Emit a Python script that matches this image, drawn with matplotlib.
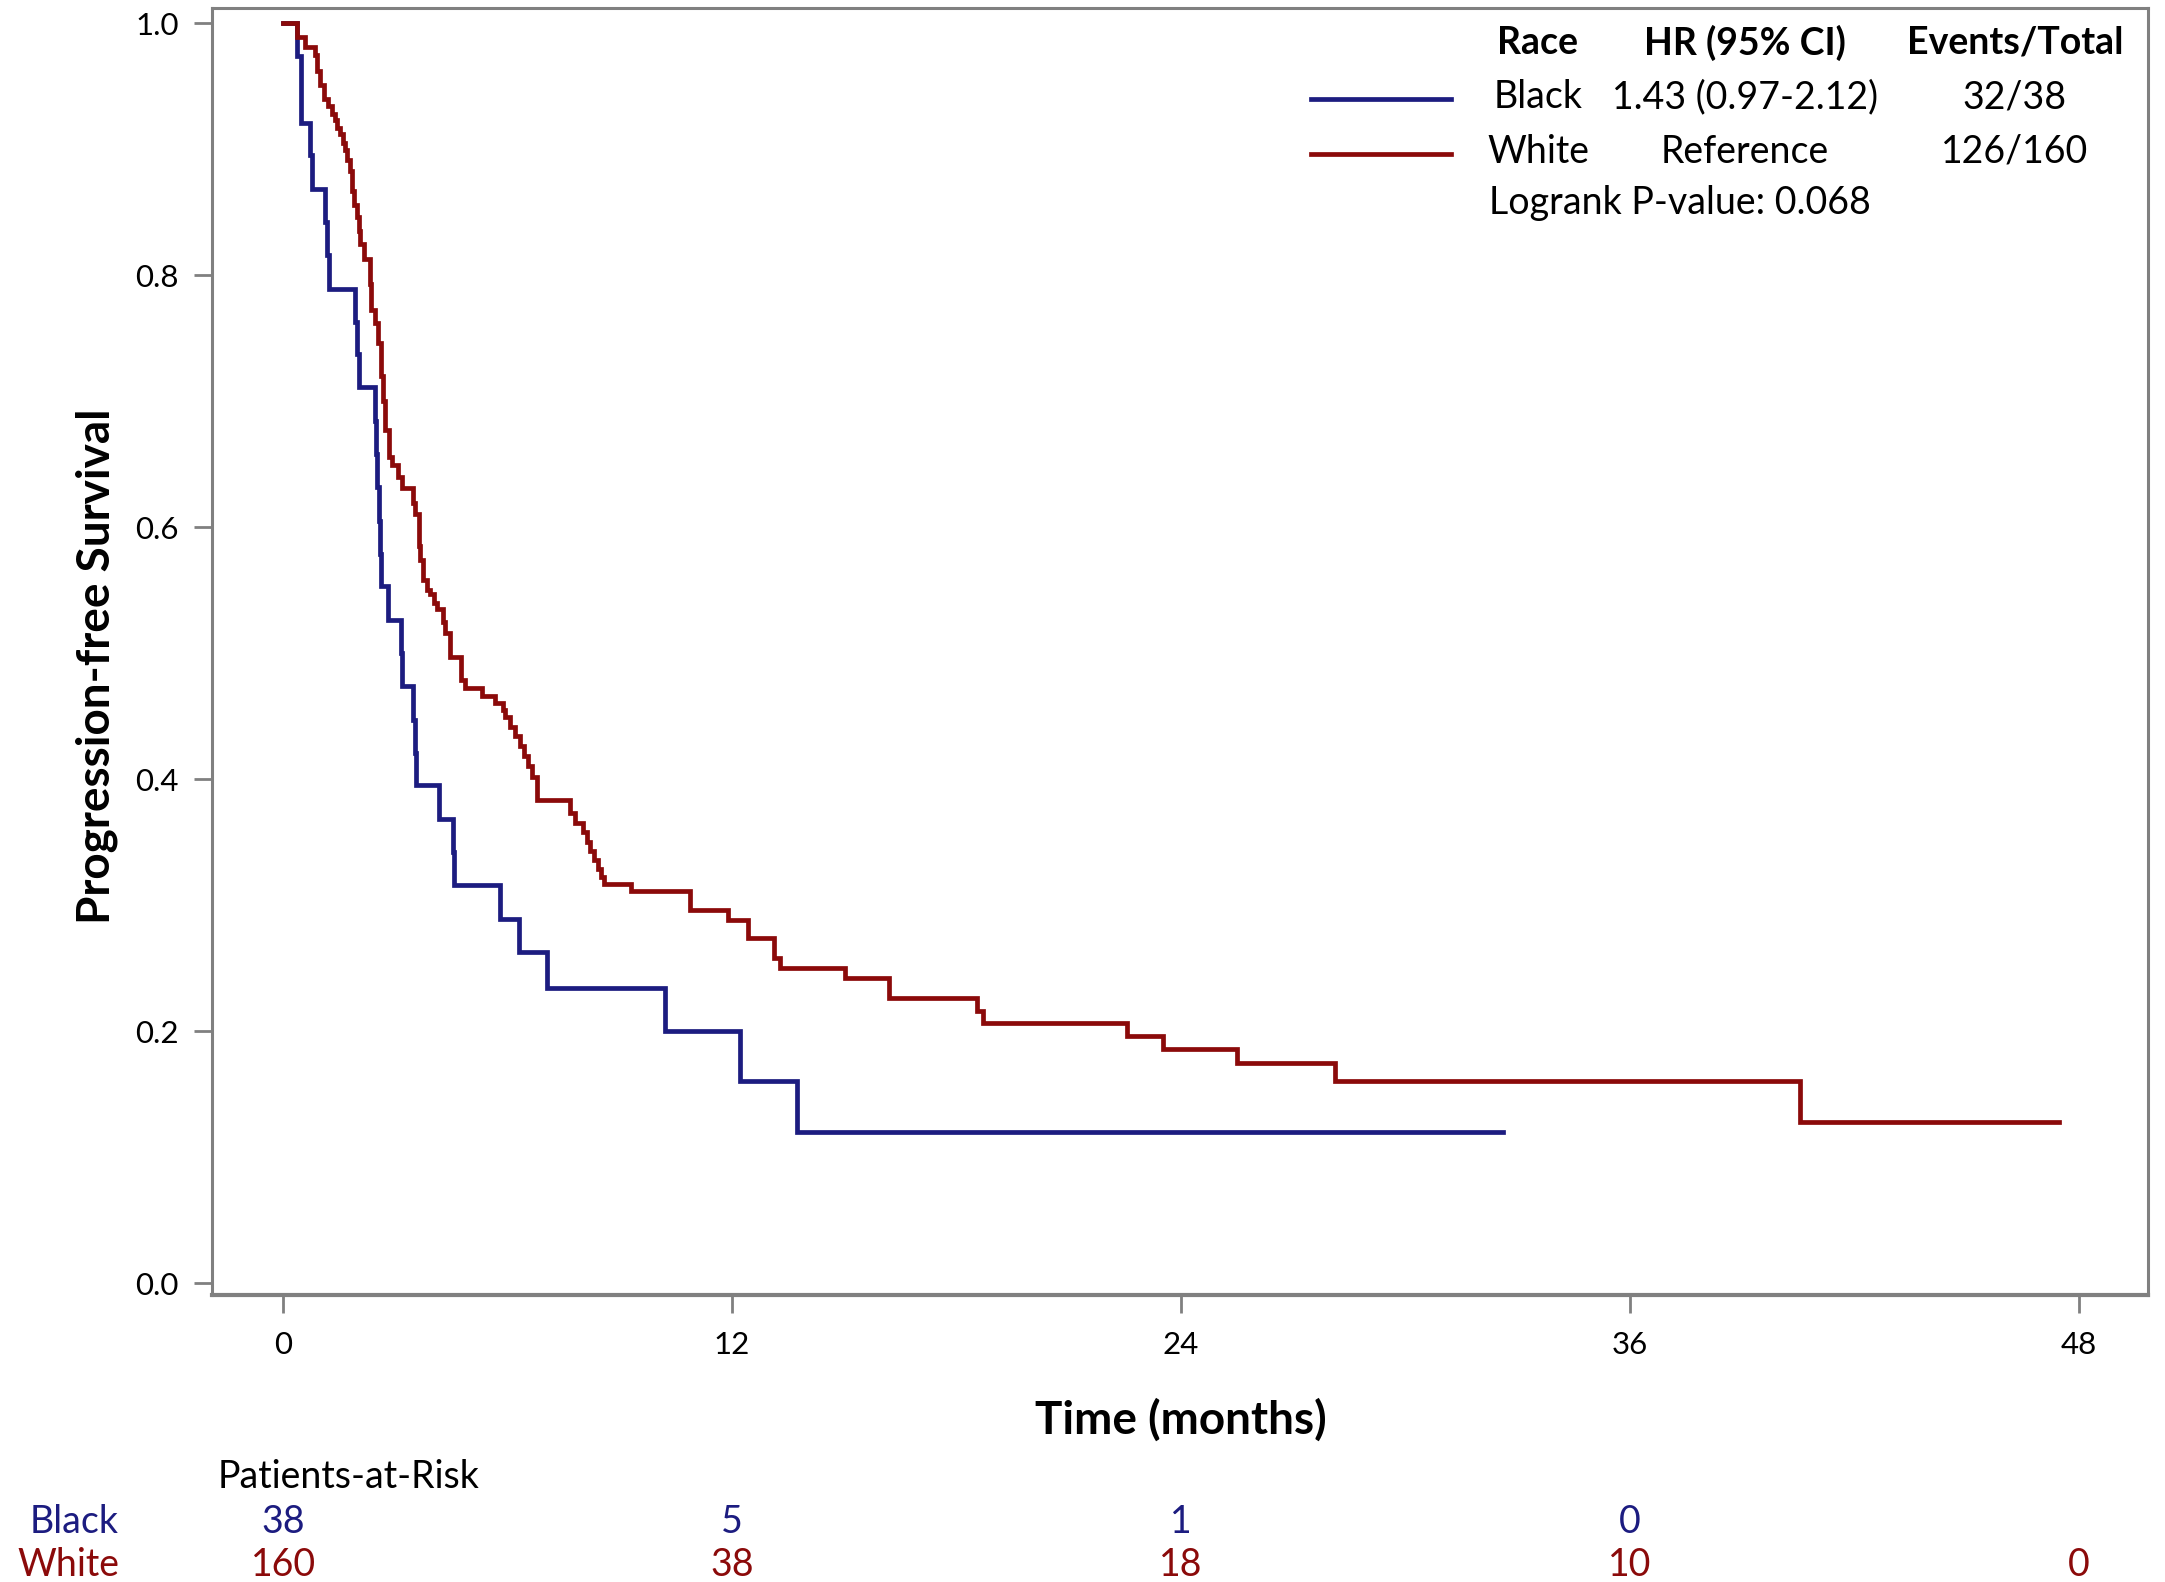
import matplotlib
matplotlib.use("Agg")
import matplotlib.pyplot as plt
from matplotlib.lines import Line2D
from matplotlib.transforms import blended_transform_factory

plt.rcParams["font.family"] = ["Lato", "DejaVu Sans"]

# Kaplan-Meier estimates (months, survival after drop)
black_time = [0, 0.37, 0.47, 0.72, 0.78, 1.12, 1.18, 1.22, 1.93, 1.98, 2.03,
              2.46, 2.48, 2.52, 2.57, 2.60, 2.63, 2.80, 3.16, 3.18, 3.46, 3.52,
              3.56, 4.17, 4.54, 4.56, 5.79, 6.30, 7.05, 10.21, 12.22, 13.74, 32.6]
black_surv = [1.0, 0.974, 0.921, 0.895, 0.868, 0.842, 0.816, 0.789, 0.763, 0.737, 0.711,
              0.684, 0.658, 0.632, 0.605, 0.579, 0.553, 0.526, 0.500, 0.474, 0.447, 0.421,
              0.395, 0.368, 0.342, 0.316, 0.289, 0.263, 0.234, 0.200, 0.160, 0.120, 0.120]

white_time = [0, 0.37, 0.59, 0.86, 0.90, 0.99, 1.10, 1.21, 1.30, 1.39, 1.45, 1.52, 1.60,
              1.66, 1.72, 1.79, 1.84, 1.90, 1.97, 2.02, 2.06, 2.15, 2.33, 2.36, 2.46,
              2.55, 2.62, 2.66, 2.72, 2.82, 2.91, 3.08, 3.17, 3.47, 3.53, 3.62, 3.64,
              3.66, 3.75, 3.85, 3.93, 4.03, 4.11, 4.28, 4.33, 4.45, 4.76, 4.87, 5.33,
              5.66, 5.87, 5.94, 6.07, 6.20, 6.33, 6.45, 6.55, 6.65, 6.79, 7.66, 7.81,
              8.02, 8.12, 8.20, 8.32, 8.42, 8.50, 8.58, 9.30, 10.88, 11.90, 12.42,
              13.13, 13.29, 15.03, 16.20, 18.56, 18.70, 22.56, 23.51, 25.51, 28.12,
              40.54, 47.48]
white_surv = [1.0, 0.989, 0.981, 0.975, 0.962, 0.951, 0.940, 0.934, 0.928, 0.923, 0.917,
              0.912, 0.905, 0.899, 0.891, 0.883, 0.867, 0.856, 0.846, 0.835, 0.825,
              0.813, 0.793, 0.772, 0.762, 0.746, 0.720, 0.700, 0.677, 0.656, 0.649,
              0.640, 0.631, 0.619, 0.610, 0.600, 0.585, 0.574, 0.558, 0.550, 0.547,
              0.540, 0.535, 0.525, 0.516, 0.497, 0.479, 0.472, 0.466, 0.460, 0.455,
              0.449, 0.441, 0.434, 0.426, 0.418, 0.410, 0.402, 0.383, 0.373, 0.365,
              0.358, 0.350, 0.343, 0.336, 0.329, 0.322, 0.317, 0.311, 0.296, 0.288,
              0.274, 0.258, 0.250, 0.242, 0.226, 0.216, 0.2066, 0.1963, 0.1857,
              0.1744, 0.1606, 0.128, 0.128]

x_ticks = [0, 12, 24, 36, 48]
y_ticks = [0.0, 0.2, 0.4, 0.6, 0.8, 1.0]

risk_groups = ["Black", "White"]
risk_black = ["38", "5", "1", "0", ""]
risk_white = ["160", "38", "18", "10", "0"]

legend_header = ["Race", "HR (95% CI)", "Events/Total"]
legend_black = ["Black", "1.43 (0.97-2.12)", "32/38"]
legend_white = ["White", "Reference", "126/160"]
logrank_text = "Logrank P-value: 0.068"

BLUE = "#1c1c80"
RED = "#8b0a0a"
GREY = "#808080"
FS = 27

W, H = 2165, 1582
fig = plt.figure(figsize=(W / 100, H / 100), dpi=100)
ax = fig.add_axes([212 / W, 1 - 1295 / H, (2148 - 212) / W, (1295 - 8) / H])

ax.step(black_time, black_surv, where="post", color=BLUE, lw=3.4, solid_joinstyle="miter")
ax.step(white_time, white_surv, where="post", color=RED, lw=3.4, solid_joinstyle="miter")

ax.set_xlim(-1.90, 49.85)
ax.set_ylim(-0.0095, 1.012)
ax.set_xticks(x_ticks)
ax.set_yticks(y_ticks)
ax.set_yticklabels([f"{v:.1f}" for v in y_ticks])
ax.tick_params(axis="both", direction="out", length=13, width=2, color=GREY,
               labelsize=22.5, pad=11)
ax.tick_params(axis="x", pad=13)
for name, sp in ax.spines.items():
    sp.set_color(GREY)
    sp.set_linewidth(2.2)
ax.spines["bottom"].set_linewidth(3.0)

fig.text(97 / W, 0.579, "Progression-free Survival", rotation=90, ha="center",
         va="center", fontsize=33, fontweight="bold")

trans = blended_transform_factory(ax.transData, fig.transFigure)
ax.text(24, 1 - 1420 / H, "Time (months)", transform=trans, ha="center", va="center",
        fontsize=33, fontweight="bold", clip_on=False)

# patients at risk table
fig.text(218 / W, 1 - 1477 / H, "Patients-at-Risk", ha="left", va="center", fontsize=FS)
row_y = [1 - 1522 / H, 1 - 1565 / H]
row_colors = [BLUE, RED]
for label, y, c, counts in zip(risk_groups, row_y, row_colors, [risk_black, risk_white]):
    fig.text(119 / W, y, label, ha="right", va="center", fontsize=FS, color=c)
    for t, n in zip(x_ticks, counts):
        ax.text(t, y, n, transform=trans, ha="center", va="center", fontsize=FS,
                color=c, clip_on=False)

# legend block
col_x = [1538 / W, 1745 / W, 2015 / W]
leg_y = [1 - 43 / H, 1 - 97 / H, 1 - 152 / H]
for x, s in zip(col_x, legend_header):
    fig.text(x, leg_y[0], s, ha="center", va="center", fontsize=FS, fontweight="bold")
for x, s in zip(col_x, legend_black):
    fig.text(x, leg_y[1], s, ha="center", va="center", fontsize=FS)
for x, s in zip(col_x, legend_white):
    fig.text(x, leg_y[2], s, ha="center", va="center", fontsize=FS)
fig.text(1489 / W, 1 - 203 / H, logrank_text, ha="left", va="center", fontsize=FS)
for y, c in zip([1 - 99 / H, 1 - 154 / H], row_colors):
    fig.add_artist(Line2D([1311 / W, 1451 / W], [y, y], color=c, lw=3.4,
                          transform=fig.transFigure))

fig.savefig("out.png", dpi=100)
